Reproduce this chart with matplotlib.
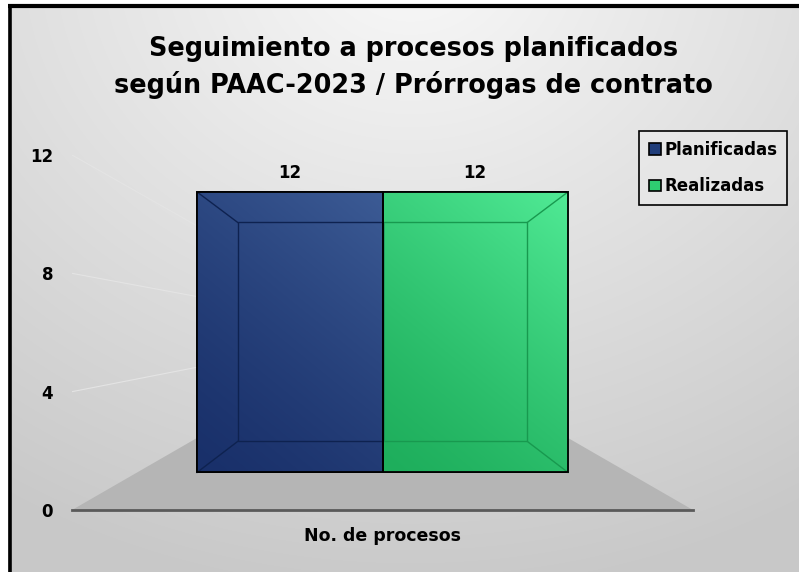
import numpy as np
import matplotlib
matplotlib.use("Agg")
import matplotlib.pyplot as plt
from matplotlib.transforms import Affine2D
from matplotlib.patches import Polygon

# data
categories = ["No. de procesos"]
series = ["Planificadas", "Realizadas"]
values = [12, 12]
yticks = [0, 4, 8, 12]

title_lines = ["Seguimiento a procesos planificados",
               "según PAAC-2023 / Prórrogas de contrato"]

face_lo = ["#19306a", "#1eae5c"]
face_hi = ["#3c5b95", "#50ea95"]
edge_in = ["#0e2250", "#18994f"]
legend_col = ["#203d7a", "#2ecc71"]

plt.rcParams["font.family"] = ["DejaVu Sans"]
plt.rcParams["font.weight"] = "bold"

W, H = 799, 572
fig = plt.figure(figsize=(W / 100, H / 100), dpi=100)

# background: radial grey gradient + black frame
bg = fig.add_axes([0, 0, 1, 1])
bg.set_xlim(0, W)
bg.set_ylim(H, 0)
bg.axis("off")
yy, xx = np.mgrid[0:H, 0:W]
r = np.sqrt(((xx - 410) / 760.0) ** 2 + ((yy + 40) / 640.0) ** 2)
r = np.clip(r, 0, 1)
shade = 0.975 - 0.19 * r
img = np.dstack([shade, shade, shade])
img[:4, :, :] = 1
img[:, :8, :] = 1
bg.imshow(img, extent=(0, W, H, 0), aspect="auto", interpolation="bilinear")
bg.plot([9.5, 9.5], [4, H], color="black", lw=2.6, solid_capstyle="butt")
bg.plot([8, W], [6, 6], color="black", lw=3.0, solid_capstyle="butt")

for i, line in enumerate(title_lines):
    fig.text(0.517, 1 - (56 + 37 * i) / H, line, ha="center", va="baseline",
             fontsize=18.4, fontweight="bold")

# front plane axes (where the tick labels sit)
ax = fig.add_axes([72 / W, 1 - 510 / H, 621 / W, 355 / H])
ax.patch.set_visible(False)
ax.set_xlim(-1, 1)
ax.set_ylim(0, 12)

vp_y = 6.05          # vanishing point height (data units)
k_front = 0.79       # depth of bar fronts
k_back = 0.617       # depth of bar backs
k_wall = 0.60        # depth of the back wall


def persp(k):
    return Affine2D().translate(0, -vp_y).scale(k).translate(0, vp_y) + ax.transData


def proj(x, y, k):
    return x * k, vp_y + (y - vp_y) * k


# floor
fl = [proj(-1, 0, 1), proj(1, 0, 1), proj(1, 0, k_wall), proj(-1, 0, k_wall)]
ax.add_patch(Polygon(fl, closed=True, facecolor="#b5b5b5", edgecolor="none", zorder=1))

# gridlines on the side wall
for t in yticks[1:]:
    p0 = proj(-1, t, 1)
    p1 = proj(-1, t, k_wall)
    ax.plot([p0[0], p1[0]], [p0[1], p1[1]], color="#e4e4e4", lw=0.8, zorder=1.5)

bw = 0.756
xpos = [-bw / 2, bw / 2]

bars = ax.bar(xpos, values, width=bw, color=legend_col, edgecolor="black",
              linewidth=1.3, transform=persp(k_front), zorder=3)

for i, (b, v) in enumerate(zip(bars, values)):
    x0, x1 = xpos[i] - bw / 2, xpos[i] + bw / 2
    gy, gx = np.mgrid[0:60, 0:60] / 59.0
    u = np.clip(0.65 * (1 - gy) + 0.35 * gx, 0, 1) ** 1.3
    u = u[..., None]
    lo = np.array(matplotlib.colors.to_rgb(face_lo[i]))
    hi = np.array(matplotlib.colors.to_rgb(face_hi[i]))
    grad = lo * (1 - u) + hi * u
    im = ax.imshow(grad, extent=(x0, x1, 0, v), transform=persp(k_front),
                   aspect="auto", interpolation="bilinear", zorder=3.1)
    im.set_clip_path(b)
    # back face
    ax.bar(xpos[i], v, width=bw, fill=False, edgecolor=edge_in[i], linewidth=1.0,
           transform=persp(k_back), zorder=3.2)
    # edges joining front and back
    for cx in (x0, x1):
        for cy in (0, v):
            if abs(cx) < 1e-9:
                continue
            a = proj(cx, cy, k_front)
            c = proj(cx, cy, k_back)
            ax.plot([a[0], c[0]], [a[1], c[1]], color=edge_in[i], lw=1.0, zorder=3.2)
    ax.annotate(str(v), (xpos[i], v), xycoords=persp(k_front), xytext=(0, 10),
                textcoords="offset points", ha="center", va="baseline",
                fontsize=12, fontweight="bold", zorder=5)

# outline on top
ax.bar(xpos, values, width=bw, fill=False, edgecolor="black", linewidth=1.3,
       transform=persp(k_front), zorder=3.4)

ax.set_xlim(-1, 1)
ax.set_ylim(0, 12)
ax.set_yticks(yticks)
ax.set_yticklabels([str(t) for t in yticks], fontsize=12, fontweight="bold")
ax.set_xticks([0])
ax.set_xticklabels(categories, fontsize=12.5, fontweight="bold")
ax.tick_params(axis="y", length=0, pad=13.5)
ax.tick_params(axis="x", length=0, pad=12.5)
for s in ("top", "right", "left"):
    ax.spines[s].set_visible(False)
ax.spines["bottom"].set_color("#5a5a5a")
ax.spines["bottom"].set_linewidth(2.0)
ax.spines["bottom"].set_zorder(2)

handles = [plt.Rectangle((0, 0), 1, 1, facecolor=c, edgecolor="black", lw=1.2)
           for c in legend_col]
leg = fig.legend(handles, series, loc="upper right",
                 bbox_to_anchor=(787 / W, 1 - 131 / H), borderaxespad=0,
                 fancybox=False, frameon=True,
                 prop={"weight": "bold", "size": 12},
                 handlelength=0.7, handleheight=0.7, handletextpad=0.2,
                 labelspacing=1.1, borderpad=0.6)
frame = leg.get_frame()
frame.set_alpha(None)
frame.set_facecolor((0.92, 0.92, 0.92, 0.55))
frame.set_edgecolor("black")
frame.set_linewidth(1.2)

fig.savefig("out.png", dpi=100)
